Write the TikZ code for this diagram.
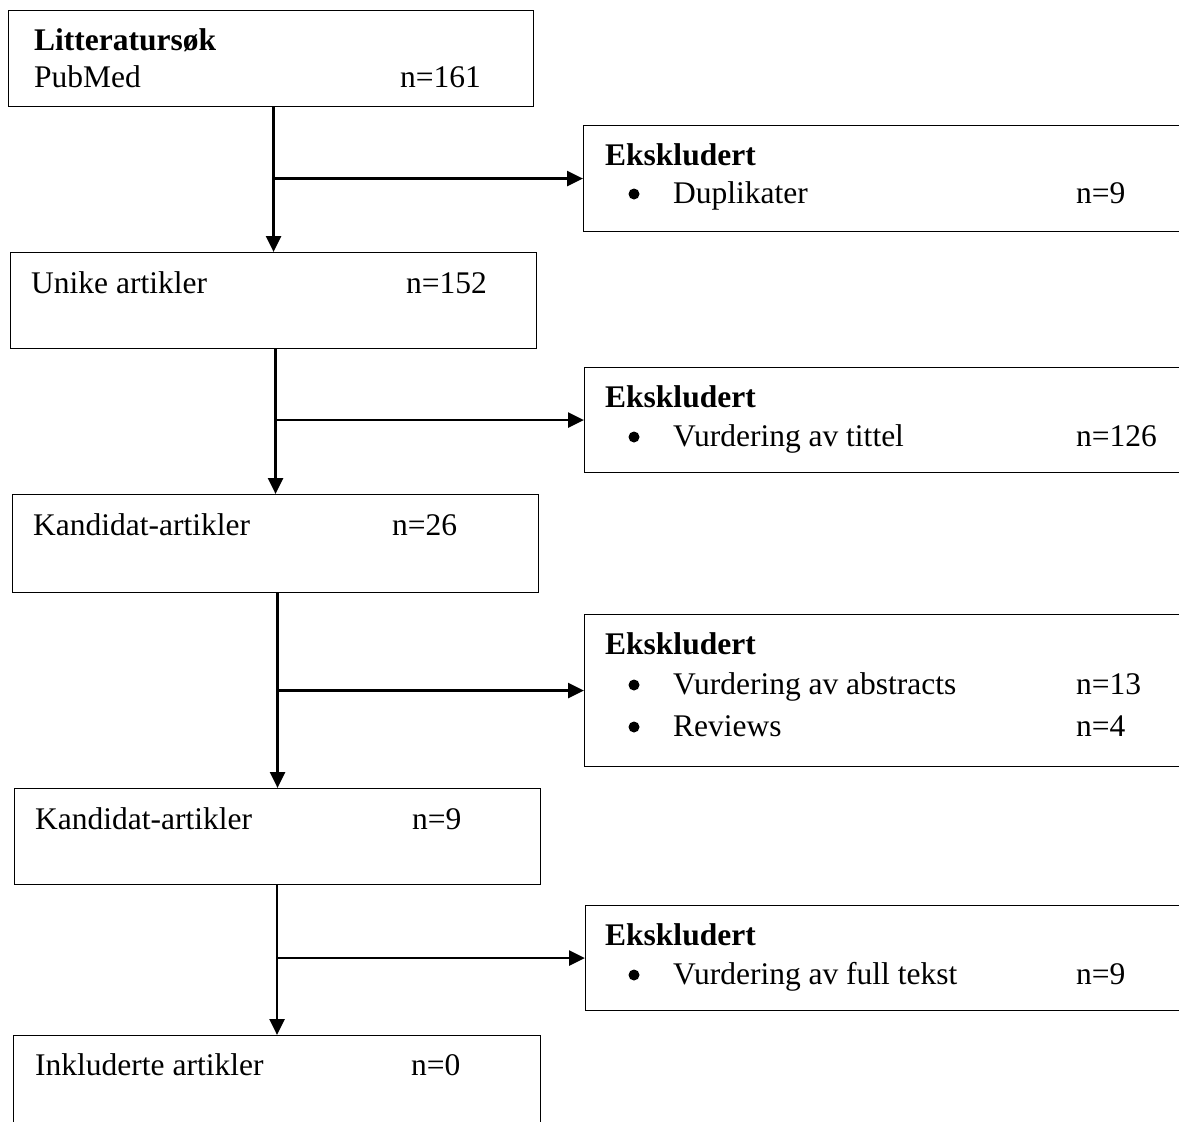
\documentclass[tikz,border=0pt]{standalone}
\usepackage{fontspec}
\setmainfont{Liberation Serif}
\usetikzlibrary{arrows.meta}

\begin{document}
\begin{tikzpicture}[x=1pt,y=-1pt,
    boks/.style={draw, line width=1.1pt, inner sep=0pt, anchor=north west},
    pil/.style={line width=2.6pt, -{Triangle[length=16pt,width=15pt]}},
    tekst/.style={anchor=base west, inner sep=0pt, font=\fontsize{31.5}{38}\selectfont},
    prikk/.style={circle, fill, inner sep=0pt, minimum size=11pt}]

    % Page size and clipping of the cut-off boxes
    \useasboundingbox (0,0) rectangle (1179,1122);
    \clip (0,0) rectangle (1179,1122);

    % Boxes of the main column
    \node[boks, minimum width=525pt, minimum height=96pt] (lit) at (8,10) {};
    \node[boks, minimum width=526pt, minimum height=96pt] (unike) at (10,252) {};
    \node[boks, minimum width=526pt, minimum height=98pt] (kand1) at (12,494) {};
    \node[boks, minimum width=526pt, minimum height=96pt] (kand2) at (14,788) {};
    \node[boks, minimum width=527pt, minimum height=150pt] (inkl) at (13,1035) {};

    % Boxes of the excluded articles
    \node[boks, minimum width=700pt, minimum height=106pt] (eks1) at (583,125) {};
    \node[boks, minimum width=700pt, minimum height=105pt] (eks2) at (584,367) {};
    \node[boks, minimum width=700pt, minimum height=152pt] (eks3) at (584,614) {};
    \node[boks, minimum width=700pt, minimum height=105pt] (eks4) at (585,905) {};

    % Texts of the main column
    \node[tekst] (litT) at (34,50) {\textbf{Litteratursøk}};
    \node[tekst] (litA) at (34,87) {PubMed};
    \node[tekst] (litN) at (400,87) {n=161};
    \node[tekst] (unikeA) at (31,293) {Unike artikler};
    \node[tekst] (unikeN) at (406,293) {n=152};
    \node[tekst] (kand1A) at (33,535) {Kandidat-artikler};
    \node[tekst] (kand1N) at (392,535) {n=26};
    \node[tekst] (kand2A) at (35,829) {Kandidat-artikler};
    \node[tekst] (kand2N) at (412,829) {n=9};
    \node[tekst] (inklA) at (35,1075) {Inkluderte artikler};
    \node[tekst] (inklN) at (411,1075) {n=0};

    % Texts of the excluded articles
    \node[tekst] (eks1T) at (605,165) {\textbf{Ekskludert}};
    \node[prikk] (eks1P) at (634,194) {};
    \node[tekst] (eks1A) at (673,203) {Duplikater};
    \node[tekst] (eks1N) at (1076,203) {n=9};

    \node[tekst] (eks2T) at (605,407) {\textbf{Ekskludert}};
    \node[prikk] (eks2P) at (634,437) {};
    \node[tekst] (eks2A) at (673,446) {Vurdering av tittel};
    \node[tekst] (eks2N) at (1076,446) {n=126};

    \node[tekst] (eks3T) at (605,654) {\textbf{Ekskludert}};
    \node[prikk] (eks3P) at (634,685) {};
    \node[tekst] (eks3A) at (673,694) {Vurdering av abstracts};
    \node[tekst] (eks3N) at (1076,694) {n=13};
    \node[prikk] (eks3Q) at (634,727) {};
    \node[tekst] (eks3B) at (673,736) {Reviews};
    \node[tekst] (eks3M) at (1076,736) {n=4};

    \node[tekst] (eks4T) at (605,945) {\textbf{Ekskludert}};
    \node[prikk] (eks4P) at (634,975) {};
    \node[tekst] (eks4A) at (673,984) {Vurdering av full tekst};
    \node[tekst] (eks4N) at (1076,984) {n=9};

    % Arrows down the main column
    \draw[pil] (unike.north |- lit.south) -- (unike.north);
    \draw[pil] (kand1.north |- unike.south) -- (kand1.north);
    \draw[pil] (kand2.north |- kand1.south) -- (kand2.north);
    \draw[pil] (inkl.north |- kand2.south) -- (inkl.north);

    % Arrows to the excluded articles
    \draw[pil] (unike.north |- eks1.west) -- (eks1.west);
    \draw[pil] (kand1.north |- eks2.west) -- (eks2.west);
    \draw[pil] (kand2.north |- eks3.west) -- (eks3.west);
    \draw[pil] (inkl.north |- eks4.west) -- (eks4.west);

\end{tikzpicture}
\end{document}
